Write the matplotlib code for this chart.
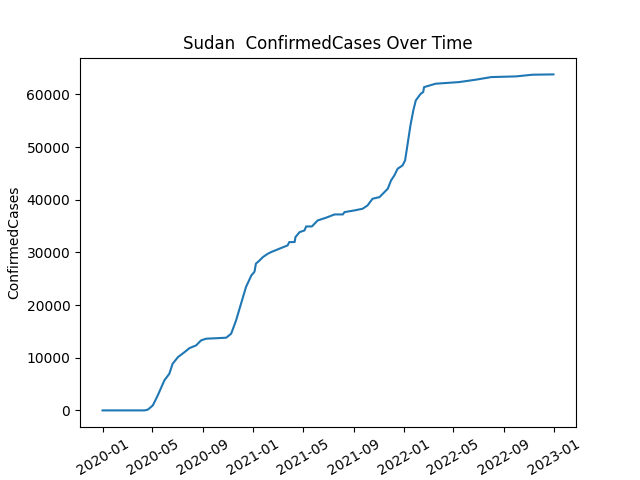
import matplotlib
matplotlib.use("Agg")
import matplotlib.pyplot as plt
import matplotlib.dates as mdates
import pandas as pd

dates = [
    "2020-01-01", "2020-03-15", "2020-04-12", "2020-04-20", "2020-05-02", "2020-05-14",
    "2020-05-30", "2020-06-11", "2020-06-19", "2020-07-02", "2020-07-18", "2020-07-30",
    "2020-08-15", "2020-08-27", "2020-09-08", "2020-10-01", "2020-10-27", "2020-11-08",
    "2020-11-20", "2020-12-02", "2020-12-14", "2020-12-27", "2021-01-03", "2021-01-04",
    "2021-01-07", "2021-01-16", "2021-01-24", "2021-02-05", "2021-02-13", "2021-03-05",
    "2021-03-25", "2021-03-29", "2021-04-11", "2021-04-13", "2021-04-23", "2021-05-05",
    "2021-05-09", "2021-05-23", "2021-06-06", "2021-06-26", "2021-07-17", "2021-08-06",
    "2021-08-10", "2021-09-03", "2021-09-23", "2021-10-05", "2021-10-17", "2021-11-03",
    "2021-11-11", "2021-11-23", "2021-12-01", "2021-12-09", "2021-12-17", "2021-12-29",
    "2022-01-04", "2022-01-09", "2022-01-17", "2022-01-24", "2022-01-30", "2022-02-11",
    "2022-02-17", "2022-02-19", "2022-03-19", "2022-05-15", "2022-06-24", "2022-08-01",
    "2022-09-30", "2022-11-09", "2022-12-30",
]
confirmed_cases = [
    0, 0, 0, 150, 950, 2850,
    5700, 6960, 8860, 10120, 11070, 11830,
    12340, 13290, 13610, 13700, 13800, 14560,
    17090, 20260, 23420, 25630, 26260, 26450,
    27850, 28480, 29110, 29750, 30060, 30700,
    31330, 31960, 31960, 32900, 33850, 34170,
    34930, 34930, 36070, 36580, 37210, 37210,
    37650, 37970, 38290, 38920, 40190, 40500,
    41140, 42090, 43670, 44620, 45890, 46520,
    47470, 49990, 54110, 56960, 58860, 60130,
    60450, 61380, 62030, 62340, 62790, 63290,
    63420, 63740, 63800,
]

x = pd.to_datetime(dates)

fig, ax = plt.subplots(figsize=(6.4, 4.8), dpi=100)
ax.plot(x, confirmed_cases, color="#1f77b4", linewidth=1.5)
ax.set_title("Sudan  ConfirmedCases Over Time")
ax.set_ylabel("ConfirmedCases")
ax.xaxis.set_major_locator(mdates.MonthLocator(bymonth=[1, 5, 9]))
ax.xaxis.set_major_formatter(mdates.DateFormatter("%Y-%m"))
plt.setp(ax.get_xticklabels(), rotation=30)
fig.savefig("out.png", dpi=100)
